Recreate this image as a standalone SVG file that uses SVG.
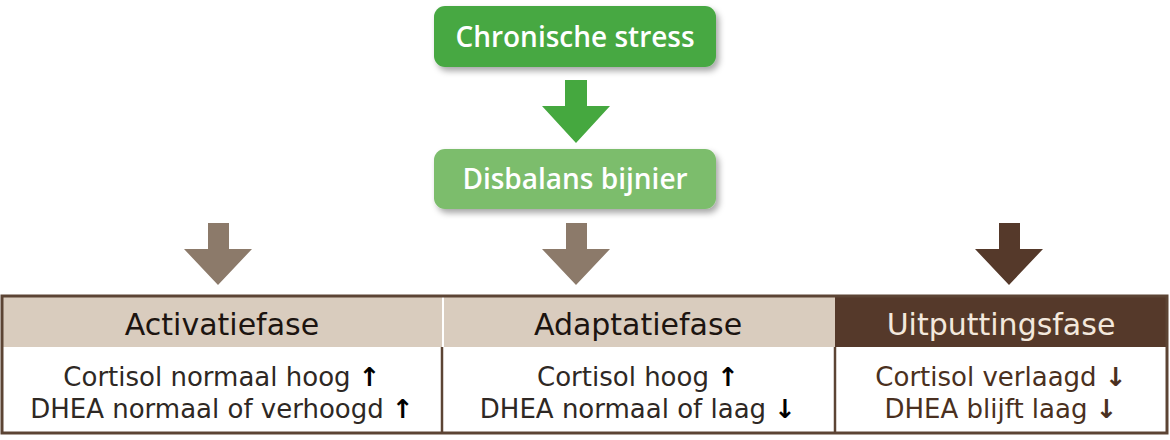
<svg xmlns="http://www.w3.org/2000/svg" width="1170" height="440" viewBox="0 0 1170 440">
<style>
.box-text{font-family:"Open Sans","Liberation Sans",sans-serif;font-weight:600;font-size:28px;fill:#ffffff;text-anchor:middle}
.head{font-family:"DejaVu Sans","Liberation Sans",sans-serif;font-size:30px;fill:#1c1410;text-anchor:middle}
.body{font-family:"DejaVu Sans","Liberation Sans",sans-serif;font-size:26px;fill:#2e2824;text-anchor:middle}
.arr{font-weight:bold;fill:#000}
.brown-t{fill:#4a3020}
</style>
<defs>
<filter id="sh" x="-10%" y="-20%" width="125%" height="160%">
<feDropShadow dx="3" dy="4" stdDeviation="3" flood-color="#000" flood-opacity="0.35"/>
</filter>
</defs>
<g id="connectors">
<polygon points="565,80 587,80 587,106 610,106 576,143 542,106 565,106" fill="#45a83f"/>
<polygon points="208,223 229,223 229,249 252,249 218,285 184,249 208,249" fill="#8c7a6a"/>
<polygon points="566,223 587,223 587,249 610,249 576,285 542,249 566,249" fill="#8c7a6a"/>
<polygon points="999,223 1020,223 1020,249 1043,249 1009,285 975,249 999,249" fill="#55392a"/>
</g>
<g id="chronische">
<rect x="434" y="6" width="282" height="61" rx="11" fill="#47a843" filter="url(#sh)"/>
<text class="box-text" x="575" y="47">Chronische stress</text>
</g>
<g id="disbalans">
<rect x="434" y="149" width="282" height="60" rx="11" fill="#7cbd6c" filter="url(#sh)"/>
<text class="box-text" x="575" y="189">Disbalans bijnier</text>
</g>
<g id="table">
<rect x="2" y="296" width="1165" height="137" fill="#ffffff"/>
<rect x="2" y="296" width="440" height="51" fill="#d9ccbe"/>
<rect x="444" y="296" width="391" height="51" fill="#d9ccbe"/>
<rect x="835" y="296" width="332" height="51" fill="#55392a"/>
<line x1="442" y1="347" x2="442" y2="433" stroke="#5c4434" stroke-width="2.5"/>
<line x1="835" y1="347" x2="835" y2="433" stroke="#5c4434" stroke-width="2.5"/>
<rect x="2" y="296" width="1165" height="137" fill="none" stroke="#5c4434" stroke-width="3"/>
</g>
<g id="activatiefase">
<text class="head" x="222" y="335">Activatiefase</text>
<text class="body" x="222" y="386">Cortisol normaal hoog <tspan class="arr">↑</tspan></text>
<text class="body" x="222" y="418">DHEA normaal of verhoogd <tspan class="arr">↑</tspan></text>
</g>
<g id="adaptatiefase">
<text class="head" x="638" y="335">Adaptatiefase</text>
<text class="body" x="638" y="386">Cortisol hoog <tspan class="arr">↑</tspan></text>
<text class="body" x="638" y="418">DHEA normaal of laag <tspan class="arr">↓</tspan></text>
</g>
<g id="uitputtingsfase">
<text class="head" x="1001" y="335" style="fill:#f3e8dc">Uitputtingsfase</text>
<text class="body brown-t" x="1001" y="386">Cortisol verlaagd <tspan class="arr" style="fill:#4a3020">↓</tspan></text>
<text class="body brown-t" x="1001" y="418">DHEA blijft laag <tspan class="arr" style="fill:#4a3020">↓</tspan></text>
</g>
</svg>
